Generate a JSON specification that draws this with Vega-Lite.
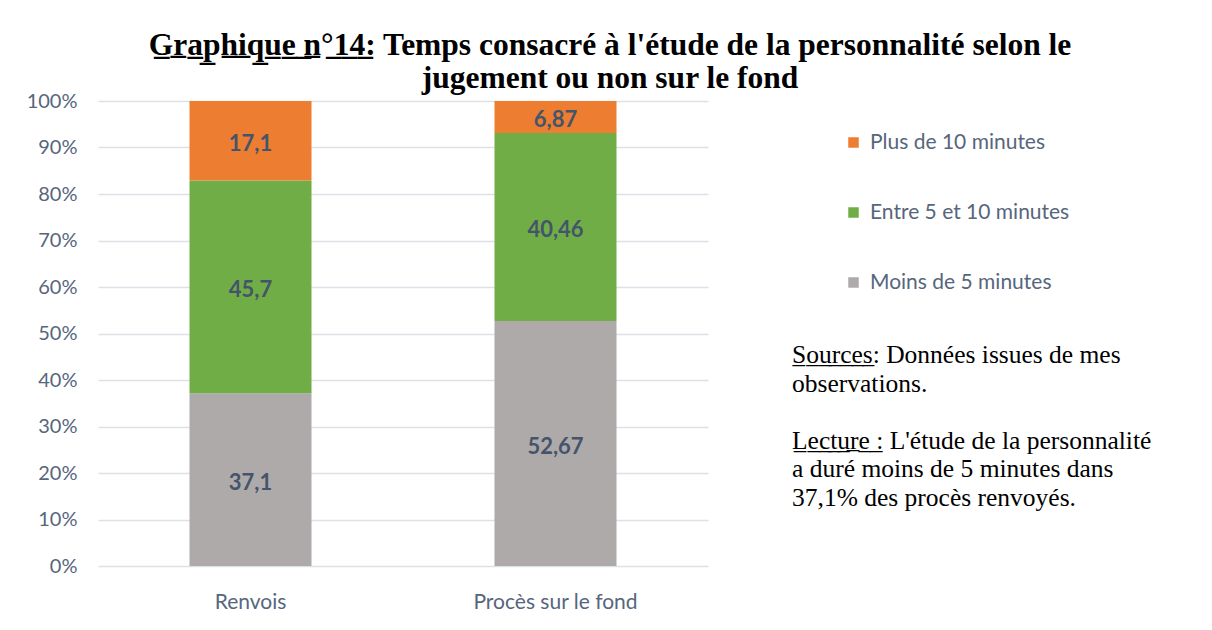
{
  "$schema": "https://vega.github.io/schema/vega-lite/v6.json",
  "width": 610,
  "height": 465,
  "autosize": {"type": "none"},
  "padding": {"left": 98, "top": 101, "right": 504, "bottom": 64},
  "background": "white",
  "config": {
    "view": {"stroke": null},
    "locale": {"number": {"decimal": ",", "thousands": "\u00a0", "grouping": [3], "currency": ["", "\u00a0€"]}}
  },
  "title": {
    "text": ["G\u0332r\u0332a\u0332p\u0332h\u0332i\u0332q\u0332u\u0332e\u0332 \u0332n\u0332°\u03321\u03324\u0332: Temps consacré à l'étude de la personnalité selon le", "jugement ou non sur le fond"],
    "font": "Liberation Serif",
    "fontSize": 31.5,
    "fontWeight": "bold",
    "color": "#000000",
    "lineHeight": 33,
    "anchor": "start",
    "align": "center",
    "frame": "group",
    "dx": 512,
    "offset": -3
  },
  "data": {
    "values": [
      {"type": "Renvois", "duree": "Moins de 5 minutes", "k": 1, "pct": 37.1},
      {"type": "Renvois", "duree": "Entre 5 et 10 minutes", "k": 2, "pct": 45.7},
      {"type": "Renvois", "duree": "Plus de 10 minutes", "k": 3, "pct": 17.1},
      {"type": "Procès sur le fond", "duree": "Moins de 5 minutes", "k": 1, "pct": 52.67},
      {"type": "Procès sur le fond", "duree": "Entre 5 et 10 minutes", "k": 2, "pct": 40.46},
      {"type": "Procès sur le fond", "duree": "Plus de 10 minutes", "k": 3, "pct": 6.87}
    ]
  },
  "encoding": {
    "x": {
      "field": "type",
      "type": "nominal",
      "sort": ["Renvois", "Procès sur le fond"],
      "scale": {"paddingInner": 0.6, "paddingOuter": 0.3},
      "axis": {
        "title": null,
        "labelAngle": 0,
        "ticks": false,
        "domain": false,
        "labelFont": "Lato",
        "labelFontSize": 21,
        "labelColor": "#56667C",
        "labelPadding": 25
      }
    }
  },
  "layer": [
    {
      "mark": {"type": "bar"},
      "encoding": {
        "y": {
          "field": "pct",
          "type": "quantitative",
          "stack": "normalize",
          "scale": {"domain": [0, 1]},
          "axis": {
            "title": null,
            "format": "%",
            "values": [0, 0.1, 0.2, 0.3, 0.4, 0.5, 0.6, 0.7, 0.8, 0.9, 1],
            "ticks": false,
            "domain": false,
            "grid": true,
            "gridColor": "#DCE1E8",
            "gridWidth": 1.5,
            "labelFont": "Lato",
            "labelFontSize": 20,
            "labelColor": "#56667C",
            "labelPadding": 21
          }
        },
        "order": {"field": "k", "type": "quantitative"},
        "color": {
          "field": "duree",
          "type": "nominal",
          "scale": {
            "domain": ["Plus de 10 minutes", "Entre 5 et 10 minutes", "Moins de 5 minutes"],
            "range": ["#ED7D31", "#70AD47", "#AEAAAA"]
          },
          "legend": {
            "orient": "none",
            "legendX": 694,
            "legendY": 31,
            "padding": 0,
            "symbolType": "square",
            "symbolSize": 110,
            "symbolStrokeWidth": 0,
            "symbolOffset": 51,
            "labelFont": "Lato",
            "labelFontSize": 21,
            "labelColor": "#56667C",
            "labelOffset": 6,
            "labelLimit": 400,
            "rowPadding": 48,
            "title": ["S\u0332o\u0332u\u0332r\u0332c\u0332e\u0332s\u0332: Données issues de mes", "observations.", "\u2800", "L\u0332e\u0332c\u0332t\u0332u\u0332r\u0332e\u0332 \u0332: L'étude de la personnalité", "a duré moins de 5 minutes dans", "37,1% des procès renvoyés."],
            "titleOrient": "bottom",
            "titleAnchor": "start",
            "titleAlign": "left",
            "titleFont": "Liberation Serif",
            "titleFontSize": 25.5,
            "titleFontWeight": "normal",
            "titleColor": "#000000",
            "titleLineHeight": 28.5,
            "titlePadding": 50,
            "titleLimit": 600
          }
        }
      }
    },
    {
      "mark": {"type": "text", "font": "Lato", "fontSize": 22, "fontWeight": "bold", "color": "#44546A", "baseline": "middle", "dy": 3},
      "encoding": {
        "y": {"field": "pct", "type": "quantitative", "stack": "normalize", "bandPosition": 0.5},
        "order": {"field": "k", "type": "quantitative"},
        "detail": {"field": "duree"},
        "text": {"field": "pct", "type": "quantitative", "format": ".4~r"}
      }
    }
  ]
}
